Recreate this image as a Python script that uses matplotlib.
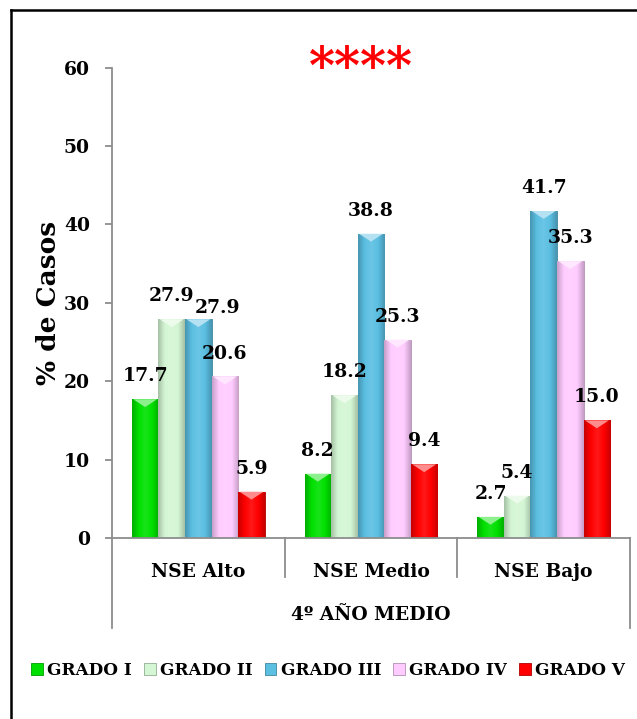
import numpy as np
import matplotlib
matplotlib.use("Agg")
import matplotlib.pyplot as plt
from matplotlib.colors import LinearSegmentedColormap, to_rgb
from matplotlib.patches import Patch, Polygon
from matplotlib.lines import Line2D
import matplotlib.transforms as mtrans

plt.rcParams["font.family"] = ["DejaVu Serif"]
plt.rcParams["font.weight"] = "bold"

categories = ["NSE Alto", "NSE Medio", "NSE Bajo"]
series_names = ["GRADO I", "GRADO II", "GRADO III", "GRADO IV", "GRADO V"]
grado_i = [17.7, 8.2, 2.7]
grado_ii = [27.9, 18.2, 5.4]
grado_iii = [27.9, 38.8, 41.7]
grado_iv = [20.6, 25.3, 35.3]
grado_v = [5.9, 9.4, 15.0]
series = [grado_i, grado_ii, grado_iii, grado_iv, grado_v]
colors = ["#00e000", "#d4f6d4", "#5bbfe2", "#ffccff", "#ff0000"]
group_title = "4º AÑO MEDIO"

fig = plt.figure(figsize=(6.37, 7.19), dpi=100)
ax = fig.add_axes([0.1758, 0.2517, 0.8132, 0.6544])

def shade(c, f):
    r = np.array(to_rgb(c))
    return tuple(np.clip(r * f, 0, 1))

def tint(c, f):
    r = np.array(to_rgb(c))
    return tuple(r + (1 - r) * f)

bw = 0.154
x = np.arange(len(categories))
for i, (vals, col) in enumerate(zip(series, colors)):
    xs = x + (i - 2) * bw
    bars = ax.bar(xs, vals, width=bw, color=col, edgecolor=shade(col, 0.7),
                  linewidth=0.6, zorder=2)
    cmap = LinearSegmentedColormap.from_list(
        "bev", [shade(col, 0.78), col, tint(col, 0.1), col, shade(col, 0.78)])
    grad = np.linspace(0, 1, 64).reshape(1, -1)
    for b in bars:
        x0, w, h = b.get_x(), b.get_width(), b.get_height()
        im = ax.imshow(grad, extent=[x0, x0 + w, 0, h], aspect="auto",
                       cmap=cmap, zorder=2.1, interpolation="bicubic")
        im.set_clip_path(b)
        # light bevel on the top face
        tri = Polygon([[x0 + w * 0.05, h], [x0 + w * 0.95, h],
                       [x0 + w / 2, h - 1.0]], closed=True,
                      facecolor=tint(col, 0.55), edgecolor="none", zorder=2.2)
        ax.add_patch(tri)

# value labels
label_shift = {(2, 0): (13.5, -8.5)}
for i, vals in enumerate(series):
    for j, v in enumerate(vals):
        dx, dy = label_shift.get((i, j), (0, 0))
        ax.annotate(f"{v:.1f}", (x[j] + (i - 2) * bw, v),
                    xytext=(dx, 16.5 + dy), textcoords="offset points",
                    ha="center", va="center", fontsize=13.5,
                    fontweight="bold", zorder=5)

ax.set_xlim(-0.5, 2.5)
ax.set_ylim(0, 60)
ax.set_yticks(range(0, 61, 10))
ax.set_xticks([])
for s in ["top", "right"]:
    ax.spines[s].set_visible(False)
for s in ["left", "bottom"]:
    ax.spines[s].set_color("#8c8c8c")
    ax.spines[s].set_linewidth(1.3)
ax.tick_params(axis="y", colors="#8c8c8c", length=5, width=1.3, pad=11,
               labelcolor="black", labelsize=13.5)
ax.set_ylabel("% de Casos", fontsize=19, fontweight="bold", labelpad=2)

# category axis: separators and labels
tr = mtrans.blended_transform_factory(ax.transData, ax.transAxes)
for k, xb in enumerate(np.arange(-0.5, 3.0, 1.0)):
    low = -0.191 if k in (0, 3) else -0.083
    ax.add_line(Line2D([xb, xb], [0, low], transform=tr, color="#8c8c8c",
                       lw=1.3, clip_on=False))
for j, c in enumerate(categories):
    ax.text(x[j], -0.072, c, transform=tr, ha="center", va="center",
            fontsize=13.5, fontweight="bold")
ax.text(1.0, -0.163, group_title, transform=tr, ha="center", va="center",
        fontsize=13.5, fontweight="bold")

fig.text(0.567, 0.903, "****", color="red", fontsize=36, fontweight="bold",
         ha="center", va="center")

handles = [Patch(facecolor=c, edgecolor=shade(c, 0.7), linewidth=0.6)
           for c in colors]
fig.legend(handles, series_names, loc="center", bbox_to_anchor=(0.515, 0.067),
           ncol=5, frameon=False, handlelength=0.7, handleheight=0.7,
           handletextpad=0.25, columnspacing=0.7,
           prop={"family": "DejaVu Serif", "weight": "bold", "size": 12.2})

# outer frame (top and left edges)
fig.add_artist(Line2D([11 / 637, 1], [1 - 10 / 719, 1 - 10 / 719],
                      transform=fig.transFigure, color="black", lw=1.8))
fig.add_artist(Line2D([11 / 637, 11 / 637], [0, 1 - 10 / 719],
                      transform=fig.transFigure, color="black", lw=1.8))

fig.savefig("out.png", dpi=100)
